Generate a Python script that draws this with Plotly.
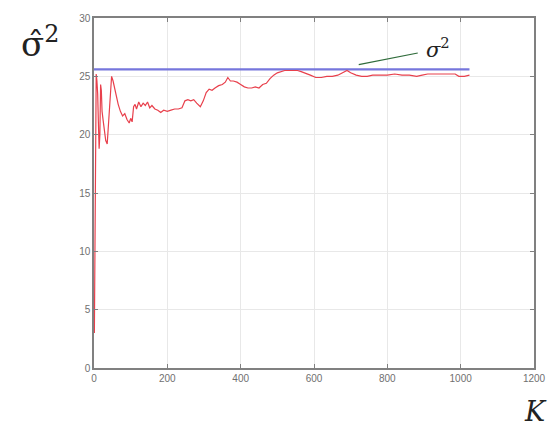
import plotly.graph_objects as go

k_vals = [1, 2, 3, 4, 5, 6, 8, 10, 12, 14, 16, 18, 20, 22, 25, 28, 32, 36, 40, 44, 48, 52, 56, 60,
          66, 72, 78, 84, 90, 96, 100, 104, 108, 112, 116, 122, 128, 134, 140, 146, 152, 158, 166,
          174, 182, 190, 200, 210, 220, 230, 240, 248, 256, 264, 272, 280, 290, 298, 306, 314, 322,
          330, 340, 350, 358, 365, 372, 380, 390, 400, 410, 420, 430, 440, 450, 460, 470, 480, 490,
          500, 510, 520, 530, 545, 555, 565, 575, 590, 605, 620, 635, 650, 665, 680, 690, 700, 715,
          730, 745, 760, 780, 800, 820, 840, 860, 880, 895, 910, 930, 950, 970, 985, 995, 1010, 1024]
est_vals = [3, 10, 18, 22, 24.5, 25.2, 24.6, 23.5, 21, 18.8, 20, 24.3, 23.8, 22, 21.2, 20.3, 19.5,
            19.2, 21.5, 23.5, 25.0, 24.6, 24.0, 23.3, 22.6, 22.0, 21.6, 21.8, 21.3, 21.0, 21.4, 21.1,
            22.4, 22.6, 22.2, 22.8, 22.4, 22.7, 22.5, 22.8, 22.3, 22.5, 22.2, 22.1, 21.9, 22.1, 22.0,
            22.1, 22.2, 22.2, 22.3, 22.9, 23.0, 22.9, 23.0, 22.7, 22.4, 22.9, 23.6, 23.9, 23.8, 24.0,
            24.2, 24.3, 24.5, 24.9, 24.6, 24.6, 24.5, 24.3, 24.1, 24.0, 24.0, 24.1, 24.0, 24.3, 24.4,
            24.8, 25.1, 25.3, 25.4, 25.5, 25.5, 25.5, 25.5, 25.4, 25.3, 25.1, 24.9, 24.9, 25.0, 25.0,
            25.1, 25.3, 25.5, 25.3, 25.1, 25.0, 25.0, 25.1, 25.1, 25.1, 25.2, 25.1, 25.1, 25.0, 25.1,
            25.2, 25.2, 25.2, 25.2, 25.2, 25.0, 25.0, 25.1]

true_k = [0, 1024]
true_vals = [25.6, 25.6]

x_ticks = [0, 200, 400, 600, 800, 1000, 1200]
y_ticks = [0, 5, 10, 15, 20, 25, 30]

fig = go.Figure()
fig.add_trace(go.Scatter(x=true_k, y=true_vals, mode="lines",
                         line=dict(color="#7676dc", width=2.2), showlegend=False))
fig.add_trace(go.Scatter(x=k_vals, y=est_vals, mode="lines",
                         line=dict(color="#e8404c", width=1.2), showlegend=False))

axis_common = dict(showline=True, linecolor="#808080", linewidth=1.5, mirror="ticks",
                   ticks="inside", ticklen=4, tickcolor="#808080",
                   showgrid=True, gridcolor="#e8e8e8", gridwidth=1, zeroline=False,
                   tickfont=dict(family="Liberation Sans", size=10, color="#707070"))

fig.update_xaxes(range=[0, 1200], tickvals=x_ticks, **axis_common)
fig.update_yaxes(range=[0, 30], tickvals=y_ticks, **axis_common)

# sigma^2 label with leader line
fig.add_shape(type="line", xref="x", yref="y", x0=722, y0=26.0, x1=883, y1=27.0,
              line=dict(color="#2e6b3a", width=1.2))
fig.add_annotation(x=900, y=27.4, xref="x", yref="y", text="<i>σ</i><sup>2</sup>",
                   showarrow=False, xanchor="left", yanchor="middle",
                   font=dict(family="DejaVu Serif", size=21, color="#222222"))

# y-axis label (sigma hat squared)
fig.add_annotation(x=-0.17, y=1.0, xref="paper", yref="paper", xanchor="left", yanchor="top",
                   text="σ̂<sup>2</sup>", showarrow=False,
                   font=dict(family="DejaVu Serif", size=34, color="#222222"))
# x-axis label
fig.add_annotation(x=1.035, y=-0.175, xref="paper", yref="paper", xanchor="right", yanchor="bottom",
                   text="<i>K</i>", showarrow=False,
                   font=dict(family="DejaVu Serif", size=27, color="#222222"))

fig.update_layout(width=558, height=434, margin=dict(l=94, r=17, t=15, b=66),
                  paper_bgcolor="white", plot_bgcolor="white")
fig.write_html("out.html")
